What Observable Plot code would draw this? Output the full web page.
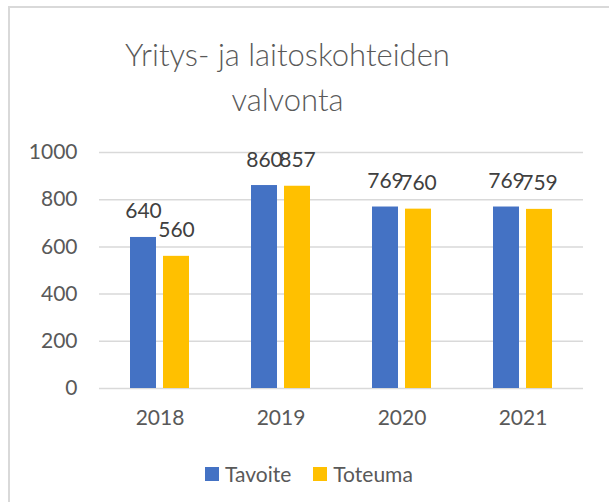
<!DOCTYPE html>
<html>
<head>
<meta charset="utf-8">
<script src="https://cdn.jsdelivr.net/npm/d3@7"></script>
<script src="https://cdn.jsdelivr.net/npm/@observablehq/plot@0.6"></script>
<style>
  html, body { margin: 0; padding: 0; background: #fff; }
  #wrap { position: relative; width: 609px; height: 502px; overflow: hidden; background: #fff; font-family: Lato, "Open Sans", sans-serif; }
  #frame { position: absolute; left: 8px; top: 6px; width: 700px; height: 600px; border-left: 2px solid #d9d9d9; border-top: 2px solid #d9d9d9; box-sizing: border-box; }
  #title { position: absolute; left: 0; top: 32px; width: 575px; text-align: center; font-size: 31px; line-height: 45px; color: #595959; font-weight: 300; }
  #chart { position: absolute; left: 0; top: 130px; }
  #legend { position: absolute; left: 205px; top: 461px; display: flex; align-items: center; font-size: 21px; color: #595959; }
  .sw { display: inline-block; width: 14px; height: 14px; margin-right: 6px; }
  .item { display: flex; align-items: center; margin-right: 22px; }
</style>
</head>
<body>
<div id="wrap">
  <div id="frame"></div>
  <div id="title">Yritys- ja laitoskohteiden<br>valvonta</div>
  <div id="chart"></div>
  <div id="legend"></div>
</div>
<script>
const years = ["2018", "2019", "2020", "2021"];
const seriesNames = ["Tavoite", "Toteuma"];
const tavoite = [640, 860, 769, 769];
const toteuma = [560, 857, 760, 759];
const yTicks = [0, 200, 400, 600, 800, 1000];
const colors = ["#4472C4", "#FFC000"];

const rows = [];
years.forEach((yr, i) => {
  rows.push({year: yr, series: seriesNames[0], value: tavoite[i]});
  rows.push({year: yr, series: seriesNames[1], value: toteuma[i]});
});

const chart = Plot.plot({
  width: 609,
  height: 300,
  marginLeft: 98,
  marginRight: 26,
  marginTop: 22,
  marginBottom: 42,
  style: {fontFamily: "Lato, 'Open Sans', sans-serif", fontSize: "21px", color: "#595959", background: "transparent"},
  fx: {domain: years, padding: 0, axis: "bottom", tickSize: 0, tickPadding: 22, label: null},
  x: {domain: seriesNames, paddingInner: 0.206, paddingOuter: 0.886, axis: null},
  y: {domain: [0, 1000], ticks: yTicks, tickSize: 0, tickPadding: 22, label: null, tickFormat: d => String(d)},
  color: {domain: seriesNames, range: colors},
  marks: [
    Plot.ruleY(yTicks, {stroke: "#d9d9d9", strokeWidth: 1.5}),
    Plot.barY(rows, {fx: "year", x: "series", y: "value", fill: "series"}),
    Plot.text(rows, {fx: "year", x: "series", y: "value", text: d => String(d.value), dy: -19, lineAnchor: "bottom", fill: "#404040", fontSize: 21})
  ]
});
document.getElementById("chart").appendChild(chart);

const legend = document.getElementById("legend");
seriesNames.forEach((s, i) => {
  const item = document.createElement("div");
  item.className = "item";
  const sw = document.createElement("span");
  sw.className = "sw";
  sw.style.background = colors[i];
  const t = document.createElement("span");
  t.textContent = s;
  item.appendChild(sw);
  item.appendChild(t);
  legend.appendChild(item);
});
</script>
</body>
</html>
